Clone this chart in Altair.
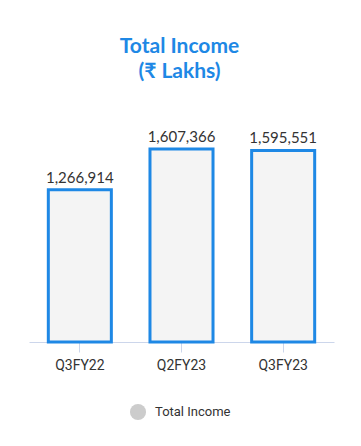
import altair as alt
import pandas as pd

categories = ["Q3FY22", "Q2FY23", "Q3FY23"]
values = [1266914, 1607366, 1595551]
series = ["Total Income"] * 3

df = pd.DataFrame({"quarter": categories, "value": values, "series": series})
df["label"] = [f"{v:,}" for v in values]

x = alt.X("quarter:N", sort=categories, title=None,
          scale=alt.Scale(paddingInner=0.38, paddingOuter=0.19),
          axis=alt.Axis(labelAngle=0, labelFont="Roboto", labelFontSize=14,
                        labelColor="#333333", domainColor="#ccd6eb",
                        tickColor="#ccd6eb", tickSize=10, labelPadding=6,
                        grid=False))
y = alt.Y("value:Q", title=None, axis=None, scale=alt.Scale(domain=[0, 2015000]))

legend_layer = alt.Chart(df).mark_circle(size=0, opacity=1).encode(
    x=x, y=y,
    color=alt.Color("series:N", title=None,
                    scale=alt.Scale(range=["#cccccc"]),
                    legend=alt.Legend(orient="none", legendX=100, legendY=303,
                                      symbolType="circle", symbolSize=260,
                                      symbolOpacity=1, labelOffset=8,
                                      labelFont="Roboto", labelFontSize=13,
                                      labelColor="#333333")),
)

bars = alt.Chart(df).mark_bar(strokeWidth=3, fill="#f4f4f4",
                              stroke="#1e88e5").encode(x=x, y=y)

labels = alt.Chart(df).mark_text(font="Lato", fontSize=15, color="#333333",
                                 baseline="bottom", dy=-4).encode(
    x=x, y=y, text="label:N")

chart = alt.layer(legend_layer, bars, labels).properties(
    width=305, height=242,
    autosize=alt.AutoSizeParams(type="none"),
    padding={"left": 21, "top": 92, "right": 19, "bottom": 96},
    title=alt.Title(["Total Income", " (₹ Lakhs)"], font="Lato", fontSize=21,
                    fontWeight="bold", color="#1e88e5", anchor="middle",
                    lineHeight=25, offset=18, dx=-2),
).configure_view(stroke=None)

chart.save("out.html", embed_options={"renderer": "svg", "actions": False})
